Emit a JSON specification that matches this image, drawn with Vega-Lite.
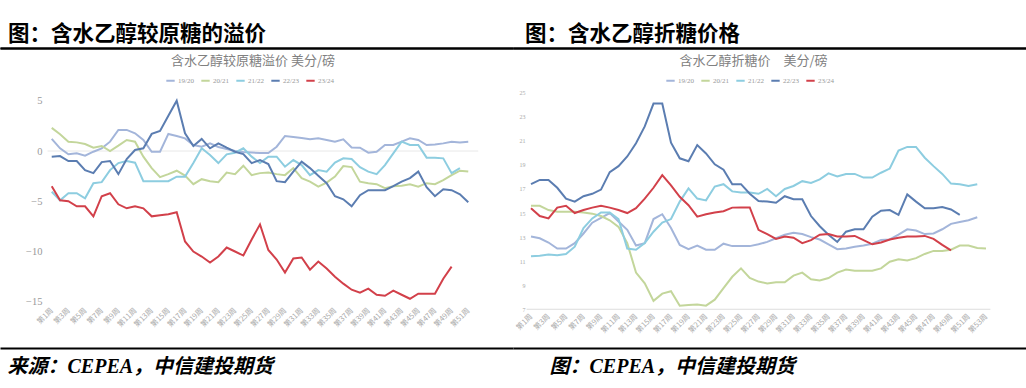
{
  "$schema": "https://vega.github.io/schema/vega-lite/v6.json",
  "padding": {"left": 0, "right": 0, "top": 23, "bottom": 0},
  "background": "white",
  "spacing": 0,
  "config": {"view": {"stroke": null}, "axis": {"grid": false, "labelOverlap": false}, "concat": {"spacing": 0}},
  "resolve": {"scale": {"color": "independent"}},
  "datasets": {
    "premium": [
      {"week":1,"19/20":1.2,"20/21":2.3,"21/22":-4.05,"22/23":-0.56,"23/24":-3.5},
      {"week":2,"19/20":0.27,"20/21":1.66,"21/22":-4.9,"22/23":-0.5,"23/24":-4.9},
      {"week":3,"19/20":-0.33,"20/21":0.93,"21/22":-4.2,"22/23":-1.0,"23/24":-5.0},
      {"week":4,"19/20":-0.23,"20/21":0.86,"21/22":-4.2,"22/23":-1.0,"23/24":-5.5},
      {"week":5,"19/20":-0.46,"20/21":0.7,"21/22":-4.7,"22/23":-1.9,"23/24":-5.5},
      {"week":6,"19/20":-0.07,"20/21":0.33,"21/22":-3.2,"22/23":-2.2,"23/24":-6.5},
      {"week":7,"19/20":0.27,"20/21":0.5,"21/22":-3.1,"22/23":-1.1,"23/24":-4.5},
      {"week":8,"19/20":0.93,"20/21":0.0,"21/22":-1.9,"22/23":-1.0,"23/24":-4.2},
      {"week":9,"19/20":2.1,"20/21":0.53,"21/22":-1.2,"22/23":-2.3,"23/24":-5.3},
      {"week":10,"19/20":2.1,"20/21":1.1,"21/22":-1.0,"22/23":-0.8,"23/24":-5.7},
      {"week":11,"19/20":1.76,"20/21":0.93,"21/22":-1.16,"22/23":0.1,"23/24":-5.5},
      {"week":12,"19/20":1.1,"20/21":-0.56,"21/22":-3.0,"22/23":0.27,"23/24":-5.7},
      {"week":13,"19/20":-0.07,"20/21":-1.7,"21/22":-3.0,"22/23":1.7,"23/24":-6.5},
      {"week":14,"19/20":-0.07,"20/21":-2.6,"21/22":-3.0,"22/23":2.0,"23/24":-6.4},
      {"week":15,"19/20":1.7,"20/21":-2.3,"21/22":-3.0,"22/23":3.5,"23/24":-6.3},
      {"week":16,"19/20":1.5,"20/21":-1.96,"21/22":-2.55,"22/23":5.0,"23/24":-6.1},
      {"week":17,"19/20":1.26,"20/21":-2.45,"21/22":-2.55,"22/23":1.76,"23/24":-9.0},
      {"week":18,"19/20":0.6,"20/21":-3.3,"21/22":-1.2,"22/23":0.5,"23/24":-10.0},
      {"week":19,"19/20":0.43,"20/21":-2.8,"21/22":0.27,"22/23":1.2,"23/24":-10.5},
      {"week":20,"19/20":0.76,"20/21":-3.0,"21/22":-0.4,"22/23":0.27,"23/24":-11.1},
      {"week":21,"19/20":0.4,"20/21":-3.1,"21/22":-1.2,"22/23":0.76,"23/24":-10.5},
      {"week":22,"19/20":0.2,"20/21":-2.15,"21/22":-0.33,"22/23":0.33,"23/24":-9.6},
      {"week":23,"19/20":0.0,"20/21":-2.3,"21/22":-0.17,"22/23":-0.07,"23/24":-10.0},
      {"week":24,"19/20":-0.1,"20/21":-1.46,"21/22":0.27,"22/23":-0.3,"23/24":-10.4},
      {"week":25,"19/20":-0.15,"20/21":-2.4,"21/22":-0.56,"22/23":-1.2,"23/24":-8.8},
      {"week":26,"19/20":-0.2,"20/21":-2.2,"21/22":-1.2,"22/23":-0.9,"23/24":-7.3},
      {"week":27,"19/20":-0.2,"20/21":-2.15,"21/22":-0.56,"22/23":-1.3,"23/24":-9.85},
      {"week":28,"19/20":0.43,"20/21":-2.3,"21/22":-0.56,"22/23":-3.0,"23/24":-10.8},
      {"week":29,"19/20":1.5,"20/21":-2.4,"21/22":-1.56,"22/23":-3.1,"23/24":-12.1},
      {"week":30,"19/20":1.4,"20/21":-1.7,"21/22":-0.9,"22/23":-2.05,"23/24":-10.7},
      {"week":31,"19/20":1.3,"20/21":-2.7,"21/22":-1.4,"22/23":-1.06,"23/24":-10.6},
      {"week":32,"19/20":1.16,"20/21":-3.05,"21/22":-2.4,"22/23":-1.7,"23/24":-11.8},
      {"week":33,"19/20":1.26,"20/21":-3.55,"21/22":-1.9,"22/23":-2.45,"23/24":-11.0},
      {"week":34,"19/20":1.1,"20/21":-3.15,"21/22":-2.05,"22/23":-3.2,"23/24":-11.7},
      {"week":35,"19/20":0.93,"20/21":-2.55,"21/22":-1.16,"22/23":-4.5,"23/24":-12.5},
      {"week":36,"19/20":1.16,"20/21":-1.5,"21/22":-0.73,"22/23":-4.8,"23/24":-13.2},
      {"week":37,"19/20":0.36,"20/21":-1.6,"21/22":-0.8,"22/23":-5.5,"23/24":-13.8},
      {"week":38,"19/20":0.33,"20/21":-3.05,"21/22":-1.6,"22/23":-4.4,"23/24":-14.1},
      {"week":39,"19/20":-0.17,"20/21":-3.2,"21/22":-2.05,"22/23":-3.9,"23/24":-13.7},
      {"week":40,"19/20":-0.07,"20/21":-3.3,"21/22":-2.3,"22/23":-3.9,"23/24":-14.3},
      {"week":41,"19/20":0.6,"20/21":-3.7,"21/22":-1.4,"22/23":-3.9,"23/24":-14.4},
      {"week":42,"19/20":0.6,"20/21":-3.5,"21/22":-0.23,"22/23":-3.5,"23/24":-13.9},
      {"week":43,"19/20":0.93,"20/21":-3.45,"21/22":0.93,"22/23":-3.05,"23/24":-14.3},
      {"week":44,"19/20":1.26,"20/21":-3.3,"21/22":0.6,"22/23":-2.7,"23/24":-14.7},
      {"week":45,"19/20":1.1,"20/21":-3.55,"21/22":0.6,"22/23":-2.05,"23/24":-14.2},
      {"week":46,"19/20":0.6,"20/21":-3.2,"21/22":-0.66,"22/23":-3.6,"23/24":-14.2},
      {"week":47,"19/20":0.66,"20/21":-3.3,"21/22":-0.66,"22/23":-4.5,"23/24":-14.2},
      {"week":48,"19/20":0.76,"20/21":-2.9,"21/22":-0.73,"22/23":-3.8,"23/24":-12.7},
      {"week":49,"19/20":0.93,"20/21":-2.4,"21/22":-2.2,"22/23":-3.9,"23/24":-11.5},
      {"week":50,"19/20":0.86,"20/21":-1.96,"21/22":-1.7,"22/23":-4.3},
      {"week":51,"19/20":0.93,"20/21":-2.05,"22/23":-5.1}
    ],
    "price": [
      {"week":1,"19/20":13.05,"20/21":15.6,"21/22":11.4,"22/23":17.4,"23/24":15.4},
      {"week":2,"19/20":12.9,"20/21":15.6,"21/22":11.45,"22/23":17.75,"23/24":14.75},
      {"week":3,"19/20":12.55,"20/21":15.25,"21/22":11.55,"22/23":17.75,"23/24":14.55},
      {"week":4,"19/20":12.05,"20/21":15.1,"21/22":11.5,"22/23":17.1,"23/24":15.45},
      {"week":5,"19/20":12.05,"20/21":15.1,"21/22":11.6,"22/23":16.2,"23/24":15.6},
      {"week":6,"19/20":12.5,"20/21":15.1,"21/22":12.2,"22/23":15.95,"23/24":15.0},
      {"week":7,"19/20":13.3,"20/21":15.05,"21/22":13.75,"22/23":16.4,"23/24":15.25},
      {"week":8,"19/20":14.2,"20/21":14.95,"21/22":14.55,"22/23":16.6,"23/24":15.45},
      {"week":9,"19/20":14.6,"20/21":14.75,"21/22":15.05,"22/23":16.95,"23/24":15.6},
      {"week":10,"19/20":15.0,"20/21":14.4,"21/22":15.05,"22/23":18.4,"23/24":15.45},
      {"week":11,"19/20":14.3,"20/21":13.85,"21/22":14.5,"22/23":18.9,"23/24":15.25},
      {"week":12,"19/20":13.6,"20/21":12.5,"21/22":12.05,"22/23":19.7,"23/24":15.0},
      {"week":13,"19/20":12.3,"20/21":10.05,"21/22":11.95,"22/23":20.8,"23/24":15.4},
      {"week":14,"19/20":12.5,"20/21":9.15,"21/22":12.5,"22/23":22.2,"23/24":16.2},
      {"week":15,"19/20":14.5,"20/21":7.7,"21/22":13.45,"22/23":24.1,"23/24":17.1},
      {"week":16,"19/20":14.9,"20/21":8.3,"21/22":14.2,"22/23":24.1,"23/24":18.15},
      {"week":17,"19/20":13.75,"20/21":8.5,"21/22":14.5,"22/23":20.85,"23/24":17.3},
      {"week":18,"19/20":12.35,"20/21":7.3,"21/22":15.95,"22/23":19.55,"23/24":16.35},
      {"week":19,"19/20":12.0,"20/21":7.35,"21/22":17.05,"22/23":19.3,"23/24":15.65},
      {"week":20,"19/20":12.3,"20/21":7.4,"21/22":16.2,"22/23":20.65,"23/24":14.7},
      {"week":21,"19/20":11.95,"20/21":7.3,"21/22":16.05,"22/23":19.95,"23/24":14.9},
      {"week":22,"19/20":11.95,"20/21":7.8,"21/22":17.2,"22/23":19.05,"23/24":15.05},
      {"week":23,"19/20":12.45,"20/21":8.75,"21/22":17.4,"22/23":18.6,"23/24":15.15},
      {"week":24,"19/20":12.25,"20/21":9.7,"21/22":16.8,"22/23":17.4,"23/24":15.45},
      {"week":25,"19/20":12.25,"20/21":10.4,"21/22":16.7,"22/23":17.4,"23/24":15.47},
      {"week":26,"19/20":12.25,"20/21":9.6,"21/22":16.7,"22/23":16.6,"23/24":15.47},
      {"week":27,"19/20":12.4,"20/21":9.3,"21/22":16.6,"22/23":16.0,"23/24":13.6},
      {"week":28,"19/20":12.6,"20/21":9.15,"21/22":17.0,"22/23":15.95,"23/24":13.25},
      {"week":29,"19/20":12.9,"20/21":9.25,"21/22":16.4,"22/23":15.85,"23/24":12.85},
      {"week":30,"19/20":13.2,"20/21":9.25,"21/22":17.0,"22/23":16.4,"23/24":13.05},
      {"week":31,"19/20":13.35,"20/21":9.8,"21/22":17.25,"22/23":16.15,"23/24":12.95},
      {"week":32,"19/20":13.25,"20/21":10.05,"21/22":17.65,"22/23":16.15,"23/24":12.5},
      {"week":33,"19/20":13.0,"20/21":9.5,"21/22":17.5,"22/23":14.75,"23/24":12.75},
      {"week":34,"19/20":12.8,"20/21":9.4,"21/22":17.8,"22/23":13.9,"23/24":13.2},
      {"week":35,"19/20":12.4,"20/21":9.6,"21/22":18.3,"22/23":13.2,"23/24":13.25},
      {"week":36,"19/20":12.0,"20/21":10.05,"21/22":18.05,"22/23":12.6,"23/24":13.05},
      {"week":37,"19/20":12.05,"20/21":10.3,"21/22":18.25,"22/23":13.45,"23/24":13.05},
      {"week":38,"19/20":12.2,"20/21":10.2,"21/22":18.25,"22/23":13.65,"23/24":13.1},
      {"week":39,"19/20":12.3,"20/21":10.2,"21/22":17.95,"22/23":13.65,"23/24":12.75},
      {"week":40,"19/20":12.45,"20/21":10.2,"21/22":17.95,"22/23":14.7,"23/24":12.4},
      {"week":41,"19/20":12.75,"20/21":10.4,"21/22":18.35,"22/23":15.2,"23/24":12.55},
      {"week":42,"19/20":12.8,"20/21":10.95,"21/22":18.7,"22/23":15.25,"23/24":12.8},
      {"week":43,"19/20":13.2,"20/21":11.15,"21/22":20.2,"22/23":14.85,"23/24":12.95},
      {"week":44,"19/20":13.65,"20/21":11.05,"21/22":20.5,"22/23":16.55,"23/24":13.05},
      {"week":45,"19/20":13.55,"20/21":11.25,"21/22":20.5,"22/23":15.95,"23/24":13.05},
      {"week":46,"19/20":13.25,"20/21":11.6,"21/22":19.6,"22/23":15.4,"23/24":13.1},
      {"week":47,"19/20":13.3,"20/21":11.85,"21/22":18.9,"22/23":15.4,"23/24":12.85},
      {"week":48,"19/20":13.65,"20/21":11.85,"21/22":18.25,"22/23":15.5,"23/24":12.35},
      {"week":49,"19/20":14.1,"20/21":11.95,"21/22":17.45,"22/23":15.3,"23/24":11.9},
      {"week":50,"19/20":14.25,"20/21":12.3,"21/22":17.4,"22/23":14.85},
      {"week":51,"19/20":14.4,"20/21":12.3,"21/22":17.25},
      {"week":52,"19/20":14.65,"20/21":12.1,"21/22":17.4},
      {"week":53,"20/21":12.05}
    ]
  },
  "hconcat": [
    {
      "width": 513,
      "height": 300,
      "title": {"text": "图：含水乙醇较原糖的溢价", "anchor": "start", "dx": 8, "offset": 3, "fontSize": 21.5, "font": "Noto Sans CJK SC", "fontWeight": "bold", "color": "#000000"},
      "resolve": {"axis": {"x": "independent"}},
      "layer": [
        {
          "data": {"values": [{"from": 0.5, "to": 52.2, "level": 0}]},
          "mark": {"type": "rule", "color": "#e8e8e8", "strokeWidth": 1},
          "encoding": {
            "x": {"field": "from", "type": "quantitative", "scale": {"domain": [-5.21, 56.37], "nice": false, "zero": false},
                  "axis": {"orient": "top", "labels": false, "ticks": false, "domain": true, "domainColor": "#000000", "domainWidth": 2, "title": null, "grid": false}},
            "x2": {"field": "to"},
            "y": {"field": "level", "type": "quantitative", "scale": {"domain": [-19.6, 10.25], "nice": false, "zero": false},
                  "axis": {"orient": "left", "values": [-15, -10, -5, 0, 5], "offset": -42, "domain": false, "ticks": false, "tickSize": 0,
                           "labelPadding": 0, "labelOverlap": false, "labelFont": "Liberation Serif", "labelFontSize": 10.5, "labelColor": "#999999", "title": null, "grid": false}}
          }
        },
        {
          "data": {"name": "premium"},
          "transform": [
            {"fold": ["19/20", "20/21", "21/22", "22/23", "23/24"], "as": ["season", "value"]},
            {"filter": "isValid(datum.value)"}
          ],
          "mark": {"type": "line", "strokeWidth": 2},
          "encoding": {
            "x": {"field": "week", "type": "quantitative", "scale": {"domain": [-5.21, 56.37], "nice": false, "zero": false},
                  "axis": {"orient": "bottom", "values": [1,3,5,7,9,11,13,15,17,19,21,23,25,27,29,31,33,35,37,39,41,43,45,47,49,51],
                           "labelExpr": "'第' + datum.value + '周'", "labelAngle": -45, "labelAlign": "right", "labelBaseline": "middle",
                           "labelFontSize": 7.5, "labelColor": "#aaaaaa", "labelFont": "Noto Sans CJK SC", "labelPadding": -39,
                           "labelOverlap": false, "labelFlush": false, "labelBound": false,
                           "ticks": false, "tickSize": 0, "domain": true, "domainColor": "#000000", "domainWidth": 2, "grid": false,
                           "title": "来源：CEPEA，中信建投期货", "titleAnchor": "start", "titleAlign": "left", "titleX": 7, "titleY": 24.5,
                           "titleBaseline": "alphabetic", "titleFont": "Liberation Serif, Noto Sans CJK SC", "titleFontSize": 20,
                           "titleFontWeight": "bold", "titleFontStyle": "italic", "titleColor": "#000000"}},
            "y": {"field": "value", "type": "quantitative", "scale": {"domain": [-19.6, 10.25], "nice": false, "zero": false},
                  "axis": {"orient": "left", "values": [-15, -10, -5, 0, 5], "offset": -42, "domain": false, "ticks": false, "tickSize": 0,
                           "labelPadding": 0, "labelOverlap": false, "labelFont": "Liberation Serif", "labelFontSize": 10.5, "labelColor": "#999999", "title": null, "grid": false}},
            "color": {"field": "season", "type": "nominal",
                      "scale": {"domain": ["19/20", "20/21", "21/22", "22/23", "23/24"], "range": ["#a3b5da", "#c3d69b", "#8dcde0", "#5b7db1", "#d2404a"]},
                      "legend": {"orient": "none", "legendX": 165, "legendY": 27, "direction": "horizontal", "title": null,
                                 "symbolType": "stroke", "symbolStrokeWidth": 2, "symbolSize": 70, "labelFontSize": 7,
                                 "labelColor": "#999999", "labelFont": "Liberation Serif", "columnPadding": 3, "labelOffset": 2}}
          }
        },
        {
          "data": {"values": [{"label": "含水乙醇较原糖溢价 美分/磅", "wk": 25.17, "v": 8.96}]},
          "mark": {"type": "text", "font": "Noto Sans CJK SC", "fontSize": 13, "color": "#808080", "align": "center", "baseline": "middle"},
          "encoding": {
            "text": {"field": "label"},
            "x": {"field": "wk", "type": "quantitative", "scale": {"domain": [-5.21, 56.37], "nice": false, "zero": false},
                  "axis": {"orient": "top", "labels": false, "ticks": false, "domain": true, "domainColor": "#000000", "domainWidth": 2, "title": null, "grid": false}},
            "y": {"field": "v", "type": "quantitative", "scale": {"domain": [-19.6, 10.25], "nice": false, "zero": false},
                  "axis": {"orient": "left", "values": [-15, -10, -5, 0, 5], "offset": -42, "domain": false, "ticks": false, "tickSize": 0,
                           "labelPadding": 0, "labelOverlap": false, "labelFont": "Liberation Serif", "labelFontSize": 10.5, "labelColor": "#999999", "title": null, "grid": false}}
          }
        }
      ]
    },
    {
      "width": 513,
      "height": 300,
      "title": {"text": "图：含水乙醇折糖价格", "anchor": "start", "dx": 12, "offset": 3, "fontSize": 21.5, "font": "Noto Sans CJK SC", "fontWeight": "bold", "color": "#000000"},
      "resolve": {"axis": {"x": "independent"}},
      "layer": [
        {
          "data": {"values": [{"from": 0.5, "to": 53.5, "level": 7}]},
          "mark": {"type": "rule", "color": "#dddddd", "strokeWidth": 1},
          "encoding": {
            "x": {"field": "from", "type": "quantitative", "scale": {"domain": [-1.057, 57.57], "nice": false, "zero": false},
                  "axis": {"orient": "top", "labels": false, "ticks": false, "domain": true, "domainColor": "#000000", "domainWidth": 2, "title": null, "grid": false}},
            "x2": {"field": "to"},
            "y": {"field": "level", "type": "quantitative", "scale": {"domain": [3.78, 28.72], "nice": false, "zero": false},
                  "axis": {"orient": "left", "values": [7, 9, 11, 13, 15, 17, 19, 21, 23, 25], "offset": -12, "domain": false, "ticks": false, "tickSize": 0,
                           "labelPadding": 0, "labelOverlap": false, "labelSeparation": 0, "labelFont": "Liberation Serif", "labelFontSize": 6, "labelColor": "#aaaaaa", "title": null, "grid": false}}
          }
        },
        {
          "data": {"name": "price"},
          "transform": [
            {"fold": ["19/20", "20/21", "21/22", "22/23", "23/24"], "as": ["season", "value"]},
            {"filter": "isValid(datum.value)"}
          ],
          "mark": {"type": "line", "strokeWidth": 2},
          "encoding": {
            "x": {"field": "week", "type": "quantitative", "scale": {"domain": [-1.057, 57.57], "nice": false, "zero": false},
                  "axis": {"orient": "bottom", "values": [1,3,5,7,9,11,13,15,17,19,21,23,25,27,29,31,33,35,37,39,41,43,45,47,49,51,53],
                           "labelExpr": "'第' + datum.value + '周'", "labelAngle": -45, "labelAlign": "right", "labelBaseline": "middle",
                           "labelFontSize": 7.5, "labelColor": "#aaaaaa", "labelFont": "Noto Sans CJK SC", "labelPadding": -33,
                           "labelOverlap": false, "labelFlush": false, "labelBound": false,
                           "ticks": false, "tickSize": 0, "domain": true, "domainColor": "#000000", "domainWidth": 2, "grid": false,
                           "title": "图：CEPEA，中信建投期货", "titleAnchor": "start", "titleAlign": "left", "titleX": 36, "titleY": 24.5,
                           "titleBaseline": "alphabetic", "titleFont": "Liberation Serif, Noto Sans CJK SC", "titleFontSize": 20,
                           "titleFontWeight": "bold", "titleFontStyle": "italic", "titleColor": "#000000"}},
            "y": {"field": "value", "type": "quantitative", "scale": {"domain": [3.78, 28.72], "nice": false, "zero": false},
                  "axis": {"orient": "left", "values": [7, 9, 11, 13, 15, 17, 19, 21, 23, 25], "offset": -12, "domain": false, "ticks": false, "tickSize": 0,
                           "labelPadding": 0, "labelOverlap": false, "labelSeparation": 0, "labelFont": "Liberation Serif", "labelFontSize": 6, "labelColor": "#aaaaaa", "title": null, "grid": false}},
            "color": {"field": "season", "type": "nominal",
                      "scale": {"domain": ["19/20", "20/21", "21/22", "22/23", "23/24"], "range": ["#a3b5da", "#c3d69b", "#8dcde0", "#5b7db1", "#d2404a"]},
                      "legend": {"orient": "none", "legendX": 152, "legendY": 27, "direction": "horizontal", "title": null,
                                 "symbolType": "stroke", "symbolStrokeWidth": 2, "symbolSize": 70, "labelFontSize": 7,
                                 "labelColor": "#999999", "labelFont": "Liberation Serif", "columnPadding": 3, "labelOffset": 2}}
          }
        },
        {
          "data": {"values": [{"label": "含水乙醇折糖价　美分/磅", "wk": 26.43, "v": 27.64}]},
          "mark": {"type": "text", "font": "Noto Sans CJK SC", "fontSize": 13, "color": "#808080", "align": "center", "baseline": "middle"},
          "encoding": {
            "text": {"field": "label"},
            "x": {"field": "wk", "type": "quantitative", "scale": {"domain": [-1.057, 57.57], "nice": false, "zero": false},
                  "axis": {"orient": "top", "labels": false, "ticks": false, "domain": true, "domainColor": "#000000", "domainWidth": 2, "title": null, "grid": false}},
            "y": {"field": "v", "type": "quantitative", "scale": {"domain": [3.78, 28.72], "nice": false, "zero": false},
                  "axis": {"orient": "left", "values": [7, 9, 11, 13, 15, 17, 19, 21, 23, 25], "offset": -12, "domain": false, "ticks": false, "tickSize": 0,
                           "labelPadding": 0, "labelOverlap": false, "labelSeparation": 0, "labelFont": "Liberation Serif", "labelFontSize": 6, "labelColor": "#aaaaaa", "title": null, "grid": false}}
          }
        }
      ]
    }
  ]
}
